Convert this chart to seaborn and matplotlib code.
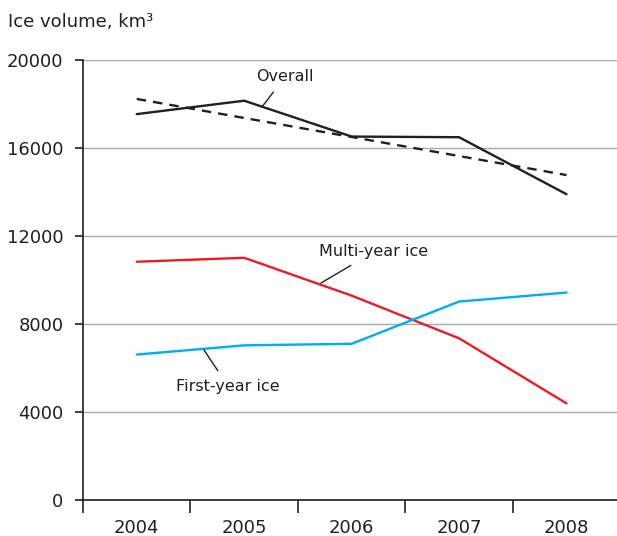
import matplotlib
matplotlib.use("Agg")
import matplotlib.pyplot as plt
import seaborn as sns
import pandas as pd

# values (km3)
years = [2004, 2005, 2006, 2007, 2008]
overall = [17540, 18150, 16520, 16490, 13900]
multi_year = [10830, 11010, 9290, 7350, 4390]
first_year = [6610, 7030, 7100, 9020, 9430]
trend_years = [2004, 2008]
trend = [18230, 14770]
y_ticks = [0, 4000, 8000, 12000, 16000, 20000]

sns.set_style("white")
plt.rcParams['font.family'] = ['DejaVu Sans']

fig = plt.figure(figsize=(6.17, 5.36), dpi=100)
ax = fig.add_axes([83 / 617, 1 - 500 / 536, 534 / 617, 440 / 536])

df = pd.DataFrame({'year': years, 'overall': overall,
                   'multi': multi_year, 'first': first_year})
tdf = pd.DataFrame({'year': trend_years, 'trend': trend})

sns.lineplot(data=df, x='year', y='overall', color='#231f20', lw=1.7, ax=ax)
sns.lineplot(data=tdf, x='year', y='trend', color='#231f20', lw=1.7,
             ax=ax, linestyle=(0, (4, 3)))
sns.lineplot(data=df, x='year', y='multi', color='#ed1c24', lw=1.7, ax=ax)
sns.lineplot(data=df, x='year', y='first', color='#00aeef', lw=1.7, ax=ax)

ax.set_xlim(2003.5, 2008.47)
ax.set_ylim(0, 20000)
ax.set_yticks(y_ticks)
ax.set_yticklabels([str(v) for v in y_ticks])
ax.yaxis.grid(True, color='#a7a9ac', lw=1)
ax.set_axisbelow(True)

# year labels sit between the tick marks
ax.set_xticks(years)
ax.set_xticklabels([str(y) for y in years])
ax.set_xticks([y - 0.5 for y in years], minor=True)
ax.tick_params(axis='x', which='major', length=0, pad=14, labelsize=13, colors='#231f20')
ax.tick_params(axis='x', which='minor', length=9, width=1.2, color='#231f20',
               direction='out', bottom=True)
ax.tick_params(axis='y', length=6, width=1.2, color='#231f20', labelsize=13,
               pad=8, labelcolor='#231f20', left=True)
ax.set_xlabel('')
ax.set_ylabel('')

sns.despine(ax=ax, top=True, right=True)
for s in ['left', 'bottom']:
    ax.spines[s].set_color('#231f20')
    ax.spines[s].set_linewidth(1.2)

txt = dict(fontsize=11.5, color='#231f20', ha='center', va='center',
           arrowprops=dict(arrowstyle='-', color='#231f20', lw=1, shrinkA=4, shrinkB=0))
ax.annotate('Overall', xy=(2005.165, 17860), xytext=(2005.38, 19230), **txt)
ax.annotate('Multi-year ice', xy=(2005.714, 9860), xytext=(2006.207, 11280), **txt)
ax.annotate('First-year ice', xy=(2004.626, 6820), xytext=(2004.85, 5180), **txt)

fig.text(8 / 617, 1 - 22 / 536, 'Ice volume, km\u00b3', fontsize=13,
         color='#231f20', va='center', ha='left')

fig.savefig('out.png', dpi=100)
